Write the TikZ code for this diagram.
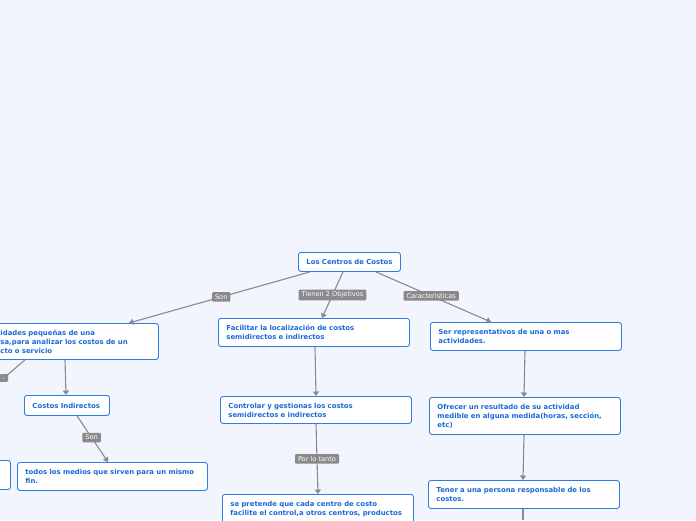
\documentclass[tikz,border=0pt]{standalone}
\usepackage{fontspec}
\setmainfont{DejaVu Sans}
\usetikzlibrary{arrows.meta}
\definecolor{fondo}{RGB}{242,245,253}
\definecolor{bordeazul}{RGB}{45,125,230}
\definecolor{textoazul}{RGB}{25,105,215}
\definecolor{gris}{RGB}{138,138,138}

\begin{document}
\begin{tikzpicture}[x=1pt, y=-1pt,
  caja/.style={draw=bordeazul, fill=white, rounded corners=2.5pt, line width=0.9pt,
               text=textoazul, font=\bfseries\fontsize{6.9}{9}\selectfont, align=left,
               anchor=north west, inner xsep=8pt, inner ysep=2pt, text width=175pt},
  etiqueta/.style={fill=gris, text=white, font=\fontsize{6.6}{7}\selectfont,
                   rounded corners=1pt, inner xsep=3pt, inner ysep=2.2pt},
  enlace/.style={draw=gris, line width=1.1pt, -{Triangle[width=6pt,length=4.5pt]}}]
  \fill[fondo] (0,0) rectangle (696,520);
  \clip (0,0) rectangle (696,520);

  % raiz
  \node[caja, inner xsep=3pt, text width=96pt, align=center, minimum height=19pt] (raiz) at (298,252) {Los Centros de Costos};

  % rama izquierda
  \node[caja, text width=150pt, minimum height=36pt] (unidades) at (-8,323)
    {idades pequeñas de una\\sa,para analizar los costos de un\\cto o servicio};
  \node[caja, text width=69pt, minimum height=20pt] (indirectos) at (24,395) {Costos Indirectos};
  \node[caja, text width=174pt, minimum height=28pt] (medios) at (17,462) {todos los medios que sirven para un mismo\\fin.};
  \node[caja, text width=134pt, minimum height=29pt] (oculto) at (-140,460) {};

  % rama central
  \node[caja, minimum height=28pt] (facilitar) at (218,318) {Facilitar la localización de costos\\semidirectos e indirectos};
  \node[caja, minimum height=27pt] (controlar) at (220,396) {Controlar y gestionas los costos\\semidirectos e indirectos};
  \node[caja, minimum height=40pt] (pretende) at (222,494)
    {se pretende que cada centro de costo\\facilite el control,a otros centros, productos\\\strut};

  % rama derecha
  \node[caja, minimum height=28pt] (representativos) at (430,322) {Ser representativos de una o mas\\actividades.};
  \node[caja, minimum height=37pt] (resultado) at (429,397) {Ofrecer un resultado de su actividad\\medible en alguna medida(horas, sección,\\etc)};
  \node[caja, minimum height=28pt] (responsable) at (428,480) {Tener a una persona responsable de los\\costos.};
  \coordinate (abajo) at (523,520);

  % enlaces
  \draw[enlace] ([xshift=12pt]raiz.south west) -- ([xshift=-30pt]unidades.north east)
    node[etiqueta, pos=0.49] {Son};
  \draw[enlace] ([xshift=45pt]raiz.south west) -- ([xshift=104pt]facilitar.north west)
    node[etiqueta, pos=0.5] {Tienen 2 Objetivos};
  \draw[enlace] ([xshift=-25pt]raiz.south east) -- ([xshift=61pt]representativos.north west)
    node[etiqueta, pos=0.48] {Caracteristicas};
  \draw[enlace] ([xshift=73pt]unidades.south west) -- ([xshift=42pt]indirectos.north west);
  \draw[enlace] ([xshift=33pt]unidades.south west) -- ([xshift=48pt]oculto.north west)
    node[etiqueta, pos=0.18] {:};
  \draw[enlace] ([xshift=53pt]indirectos.south west) -- ([xshift=91pt]medios.north west)
    node[etiqueta, pos=0.47] {Son};
  \draw[enlace] ([xshift=97pt]facilitar.south west) -- ([xshift=96pt]controlar.north west);
  \draw[enlace] ([xshift=96pt]controlar.south west) -- ([xshift=96pt]pretende.north west)
    node[etiqueta, pos=0.5] {Por lo tanto};
  \draw[enlace] ([xshift=95pt]representativos.south west) -- ([xshift=95pt]resultado.north west);
  \draw[enlace] ([xshift=95pt]resultado.south west) -- ([xshift=95pt]responsable.north west);
  \draw[draw=gris, line width=1.1pt] ([xshift=95pt]responsable.south west) -- (abajo);
\end{tikzpicture}
\end{document}
